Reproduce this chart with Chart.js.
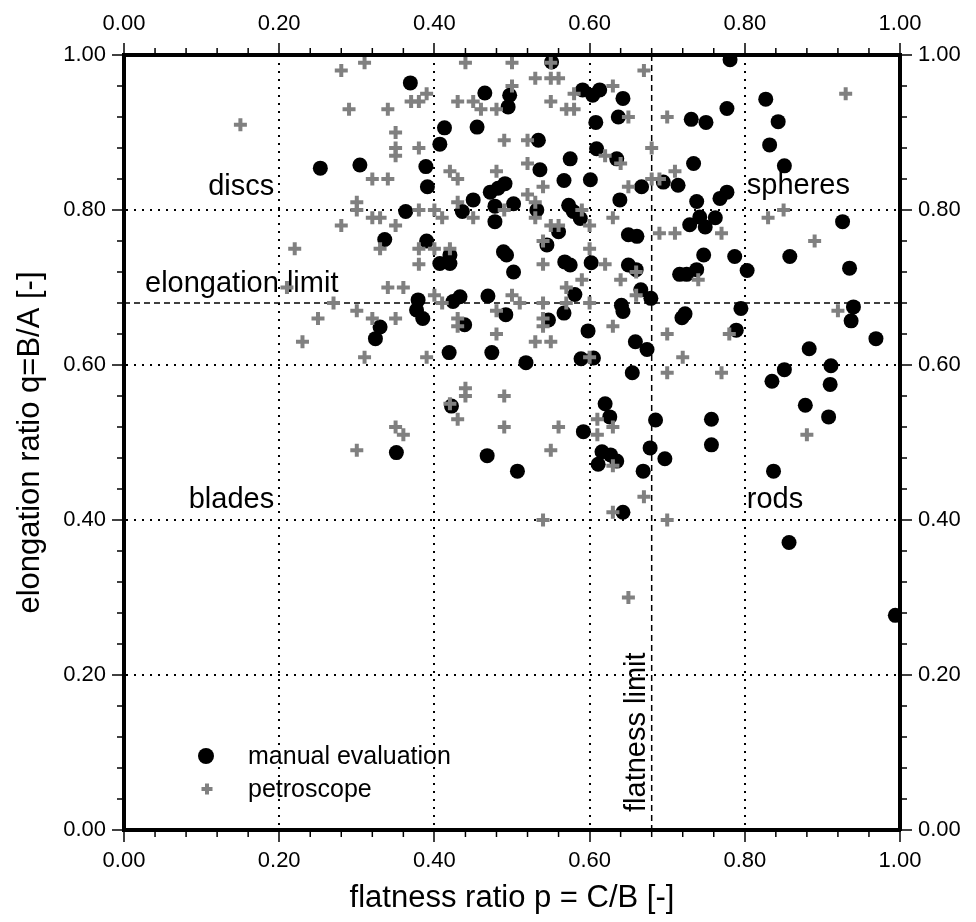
<!DOCTYPE html>
<html>
<head>
<meta charset="utf-8">
<title>Zingg diagram</title>
<script src="https://cdn.jsdelivr.net/npm/chart.js@4.4.0/dist/chart.umd.min.js"></script>
<style>
  html, body { margin: 0; padding: 0; background: #fff; }
  #wrap { width: 976px; height: 922px; position: relative; }
</style>
</head>
<body>
<div id="wrap"><canvas id="zinggChart"></canvas></div>
<script>
// dados: p = C/B (flatness), q = B/A (elongation)

// manual evaluation (círculos pretos)
const manualP = [0.369, 0.413, 0.407, 0.253, 0.304, 0.389, 0.391, 0.363, 0.436, 0.336,
  0.390, 0.407, 0.420, 0.420, 0.424, 0.433, 0.379, 0.377, 0.385, 0.330,
  0.324, 0.419, 0.422, 0.351, 0.551, 0.465, 0.497, 0.495, 0.591, 0.604,
  0.613, 0.643, 0.637, 0.608, 0.455, 0.534, 0.609, 0.635, 0.575, 0.536,
  0.567, 0.601, 0.667, 0.695, 0.714, 0.491, 0.482, 0.472, 0.450, 0.478,
  0.478, 0.502, 0.532, 0.573, 0.579, 0.588, 0.639, 0.560, 0.650, 0.661,
  0.781, 0.827, 0.777, 0.731, 0.750, 0.843, 0.832, 0.851, 0.734, 0.738,
  0.768, 0.777, 0.729, 0.742, 0.749, 0.762, 0.926, 0.545, 0.489, 0.493,
  0.568, 0.575, 0.602, 0.650, 0.660, 0.502, 0.666, 0.581, 0.679, 0.469,
  0.567, 0.641, 0.643, 0.492, 0.439, 0.547, 0.598, 0.659, 0.674, 0.474,
  0.518, 0.589, 0.605, 0.655, 0.620, 0.626, 0.685, 0.592, 0.468, 0.507,
  0.616, 0.627, 0.635, 0.611, 0.678, 0.697, 0.669, 0.643, 0.747, 0.787,
  0.858, 0.935, 0.803, 0.716, 0.725, 0.738, 0.795, 0.940, 0.937, 0.719,
  0.723, 0.789, 0.969, 0.883, 0.911, 0.851, 0.835, 0.910, 0.878, 0.908,
  0.757, 0.757, 0.837, 0.857, 0.994];
const manualQ = [0.964, 0.906, 0.885, 0.854, 0.858, 0.856, 0.830, 0.798, 0.798, 0.762,
  0.760, 0.731, 0.731, 0.742, 0.682, 0.688, 0.684, 0.671, 0.660, 0.649,
  0.634, 0.616, 0.547, 0.487, 0.991, 0.951, 0.948, 0.933, 0.955, 0.948,
  0.955, 0.944, 0.920, 0.913, 0.907, 0.890, 0.879, 0.866, 0.866, 0.852,
  0.838, 0.839, 0.830, 0.836, 0.832, 0.834, 0.828, 0.823, 0.813, 0.805,
  0.785, 0.808, 0.800, 0.806, 0.798, 0.789, 0.813, 0.772, 0.768, 0.766,
  0.994, 0.943, 0.931, 0.917, 0.913, 0.914, 0.884, 0.857, 0.860, 0.811,
  0.815, 0.823, 0.781, 0.791, 0.778, 0.790, 0.785, 0.755, 0.746, 0.742,
  0.733, 0.729, 0.732, 0.729, 0.723, 0.720, 0.697, 0.691, 0.686, 0.689,
  0.667, 0.677, 0.669, 0.665, 0.652, 0.658, 0.644, 0.630, 0.620, 0.616,
  0.603, 0.608, 0.609, 0.590, 0.550, 0.533, 0.529, 0.514, 0.483, 0.463,
  0.488, 0.484, 0.476, 0.472, 0.493, 0.479, 0.463, 0.410, 0.742, 0.740,
  0.740, 0.725, 0.722, 0.717, 0.717, 0.723, 0.673, 0.675, 0.657, 0.661,
  0.666, 0.645, 0.634, 0.621, 0.599, 0.594, 0.579, 0.575, 0.548, 0.533,
  0.530, 0.497, 0.463, 0.371, 0.277];

// petroscope (cruzes cinzas)
const petroP = [0.28, 0.31, 0.37, 0.38, 0.39, 0.15, 0.29, 0.34, 0.35, 0.35,
  0.35, 0.38, 0.42, 0.43, 0.32, 0.34, 0.30, 0.30, 0.38, 0.40,
  0.41, 0.43, 0.32, 0.33, 0.35, 0.28, 0.22, 0.33, 0.38, 0.40,
  0.42, 0.38, 0.21, 0.34, 0.36, 0.40, 0.41, 0.27, 0.30, 0.25,
  0.32, 0.35, 0.23, 0.31, 0.39, 0.42, 0.43, 0.35, 0.36, 0.30,
  0.44, 0.50, 0.55, 0.53, 0.55, 0.56, 0.50, 0.67, 0.43, 0.45,
  0.46, 0.48, 0.55, 0.57, 0.58, 0.58, 0.63, 0.65, 0.70, 0.49,
  0.52, 0.62, 0.64, 0.68, 0.52, 0.48, 0.54, 0.65, 0.68, 0.69,
  0.71, 0.45, 0.49, 0.52, 0.53, 0.53, 0.59, 0.60, 0.63, 0.55,
  0.56, 0.69, 0.71, 0.93, 0.77, 0.83, 0.85, 0.89, 0.54, 0.60,
  0.54, 0.62, 0.66, 0.59, 0.64, 0.57, 0.66, 0.50, 0.51, 0.54,
  0.57, 0.60, 0.48, 0.43, 0.43, 0.54, 0.54, 0.63, 0.70, 0.48,
  0.53, 0.55, 0.60, 0.72, 0.70, 0.44, 0.44, 0.49, 0.61, 0.49,
  0.56, 0.63, 0.61, 0.55, 0.63, 0.67, 0.63, 0.54, 0.70, 0.65,
  0.74, 0.92, 0.78, 0.77, 0.88];
const petroQ = [0.98, 0.99, 0.94, 0.94, 0.95, 0.91, 0.93, 0.93, 0.90, 0.88,
  0.87, 0.88, 0.85, 0.84, 0.84, 0.84, 0.81, 0.80, 0.80, 0.80,
  0.79, 0.81, 0.79, 0.79, 0.78, 0.78, 0.75, 0.75, 0.75, 0.75,
  0.75, 0.73, 0.70, 0.70, 0.70, 0.69, 0.68, 0.68, 0.67, 0.66,
  0.66, 0.66, 0.63, 0.61, 0.61, 0.55, 0.53, 0.52, 0.51, 0.49,
  0.99, 0.99, 0.99, 0.97, 0.97, 0.97, 0.96, 0.98, 0.94, 0.94,
  0.93, 0.93, 0.94, 0.93, 0.93, 0.95, 0.96, 0.92, 0.92, 0.89,
  0.89, 0.87, 0.86, 0.88, 0.86, 0.85, 0.83, 0.83, 0.84, 0.84,
  0.85, 0.79, 0.80, 0.82, 0.81, 0.79, 0.80, 0.78, 0.79, 0.78,
  0.78, 0.77, 0.77, 0.95, 0.77, 0.79, 0.80, 0.76, 0.76, 0.75,
  0.73, 0.73, 0.72, 0.71, 0.71, 0.70, 0.69, 0.69, 0.68, 0.68,
  0.68, 0.68, 0.67, 0.66, 0.65, 0.66, 0.65, 0.65, 0.64, 0.64,
  0.63, 0.63, 0.61, 0.61, 0.59, 0.57, 0.56, 0.56, 0.53, 0.52,
  0.52, 0.52, 0.51, 0.49, 0.47, 0.43, 0.41, 0.40, 0.40, 0.30,
  0.71, 0.67, 0.64, 0.59, 0.51];

// eixos
const tickValues = [0, 0.2, 0.4, 0.6, 0.8, 1.0];
const minorStep = 0.04;
const flatnessLimit = 0.68;
const elongationLimit = 0.68;

// rótulos das classes de Zingg
const classLabels = ['discs', 'spheres', 'blades', 'rods'];
const legendLabels = ['manual evaluation', 'petroscope'];

const FONT = "'Liberation Sans', Arial, Helvetica, sans-serif";
Chart.defaults.font.family = FONT;
Chart.defaults.color = '#000';

function toPoints(xs, ys) {
    return xs.map((x, i) => ({ x: x, y: ys[i] }));
}

function isInnerTick(v) {
    return v > 0.001 && v < 0.999;
}

// configuração comum dos eixos
function axisConfig(position, size, titleText, mainAxis) {
    const horizontal = position === 'top' || position === 'bottom';
    const cfg = {
        type: 'linear',
        position: position,
        min: 0,
        max: 1,
        afterBuildTicks: function(scale) {
            scale.ticks = tickValues.map(v => ({ value: v }));
        },
        ticks: {
            callback: function(value) { return Number(value).toFixed(2); },
            font: { size: 22 },
            color: '#000',
            padding: 6,
            maxRotation: 0,
            autoSkip: false
        },
        grid: {
            drawOnChartArea: mainAxis,
            color: function(ctx) {
                return ctx.tick && isInnerTick(ctx.tick.value) ? '#000' : 'rgba(0,0,0,0)';
            },
            lineWidth: 2,
            tickColor: '#000',
            tickWidth: 1.5,
            tickLength: 12,
            tickBorderDash: []
        },
        border: { display: true, color: '#000', width: 4, dash: [2, 6], z: 1 },
        title: {
            display: !!titleText,
            text: titleText || '',
            font: { size: 31 },
            color: '#000',
            padding: horizontal ? { top: 0, bottom: 5 } : { top: 12, bottom: 0 }
        },
        afterFit: function(scale) {
            if (horizontal) {
                scale.height = size;
            } else {
                scale.width = size;
            }
        }
    };
    return cfg;
}

// marcas menores, linhas-limite, rótulos e legenda
const zinggPlugin = {
    id: 'zingg',
    beforeDatasetsDraw(chart) {
        const ctx = chart.ctx;
        const area = chart.chartArea;
        const xs = chart.scales.x;
        const ys = chart.scales.y;

        // linhas-limite tracejadas
        ctx.save();
        ctx.strokeStyle = '#000';
        ctx.lineWidth = 1.5;
        ctx.setLineDash([6, 4]);
        const fx = xs.getPixelForValue(flatnessLimit);
        ctx.beginPath();
        ctx.moveTo(fx, area.top);
        ctx.lineTo(fx, area.bottom);
        ctx.stroke();
        const ey = ys.getPixelForValue(elongationLimit);
        ctx.beginPath();
        ctx.moveTo(area.left, ey);
        ctx.lineTo(area.right, ey);
        ctx.stroke();
        ctx.restore();

        // textos das classes
        ctx.save();
        ctx.fillStyle = '#000';
        ctx.font = '29px ' + FONT;
        ctx.textBaseline = 'alphabetic';
        const x02 = xs.getPixelForValue(0.2);
        const x08 = xs.getPixelForValue(0.8);
        const y08 = ys.getPixelForValue(0.8);
        const y04 = ys.getPixelForValue(0.4);
        ctx.textAlign = 'right';
        ctx.fillText(classLabels[0], x02 - 5, y08 - 15);
        ctx.fillText(classLabels[2], x02 - 5, y04 - 12);
        ctx.textAlign = 'left';
        ctx.fillText(classLabels[1], x08 + 2, y08 - 16);
        ctx.fillText(classLabels[3], x08 + 2, y04 - 12);
        ctx.fillText('elongation limit', area.left + 21, ey - 11);

        ctx.translate(fx - 7, ys.getPixelForValue(0) - 18);
        ctx.rotate(-Math.PI / 2);
        ctx.fillText('flatness limit', 0, 0);
        ctx.restore();
    },
    afterDraw(chart) {
        const ctx = chart.ctx;
        const area = chart.chartArea;

        // marcas menores nos quatro lados
        ctx.save();
        ctx.strokeStyle = '#000';
        ctx.lineWidth = 1.5;
        ['x', 'x2', 'y', 'y2'].forEach(id => {
            const scale = chart.scales[id];
            for (let k = 1; k < 25; k++) {
                if (k % 5 === 0) continue;
                const p = scale.getPixelForValue(k * minorStep);
                ctx.beginPath();
                if (id === 'x') { ctx.moveTo(p, area.bottom); ctx.lineTo(p, area.bottom + 7); }
                if (id === 'x2') { ctx.moveTo(p, area.top); ctx.lineTo(p, area.top - 7); }
                if (id === 'y') { ctx.moveTo(area.left, p); ctx.lineTo(area.left - 7, p); }
                if (id === 'y2') { ctx.moveTo(area.right, p); ctx.lineTo(area.right + 7, p); }
                ctx.stroke();
            }
        });
        ctx.restore();

        // legenda dentro da área do gráfico
        ctx.save();
        const lx = area.left + 82;
        const ly1 = area.bottom - 74;
        const ly2 = area.bottom - 41;
        ctx.fillStyle = '#000';
        ctx.beginPath();
        ctx.arc(lx, ly1, 8, 0, Math.PI * 2);
        ctx.fill();
        ctx.strokeStyle = '#808080';
        ctx.lineWidth = 4;
        ctx.beginPath();
        ctx.moveTo(lx + 1 - 5.5, ly2);
        ctx.lineTo(lx + 1 + 5.5, ly2);
        ctx.moveTo(lx + 1, ly2 - 5.5);
        ctx.lineTo(lx + 1, ly2 + 5.5);
        ctx.stroke();
        ctx.fillStyle = '#000';
        ctx.font = '25px ' + FONT;
        ctx.textAlign = 'left';
        ctx.textBaseline = 'middle';
        ctx.fillText(legendLabels[0], area.left + 124, ly1 + 1);
        ctx.fillText(legendLabels[1], area.left + 124, ly2 + 1);
        ctx.restore();
    }
};

const ctx = document.getElementById('zinggChart').getContext('2d');
window.zinggChart = new Chart(ctx, {
    type: 'scatter',
    data: {
        datasets: [
            {
                label: legendLabels[0],
                data: toPoints(manualP, manualQ),
                pointStyle: 'circle',
                pointRadius: 7.5,
                pointHoverRadius: 7.5,
                backgroundColor: '#000',
                borderWidth: 0,
                order: 1
            },
            {
                label: legendLabels[1],
                data: toPoints(petroP, petroQ),
                pointStyle: 'cross',
                pointRadius: 6.5,
                pointHoverRadius: 6.5,
                borderColor: '#808080',
                borderWidth: 4,
                order: 0
            }
        ]
    },
    options: {
        responsive: true,
        maintainAspectRatio: false,
        animation: false,
        devicePixelRatio: 1,
        layout: { padding: 0 },
        plugins: {
            legend: { display: false },
            tooltip: { enabled: false }
        },
        scales: {
            x: axisConfig('bottom', 92, 'flatness ratio p = C/B [-]', true),
            x2: axisConfig('top', 55, null, false),
            y: axisConfig('left', 124, 'elongation ratio q=B/A [-]', true),
            y2: axisConfig('right', 76, null, false)
        }
    },
    plugins: [zinggPlugin]
});
</script>
</body>
</html>
